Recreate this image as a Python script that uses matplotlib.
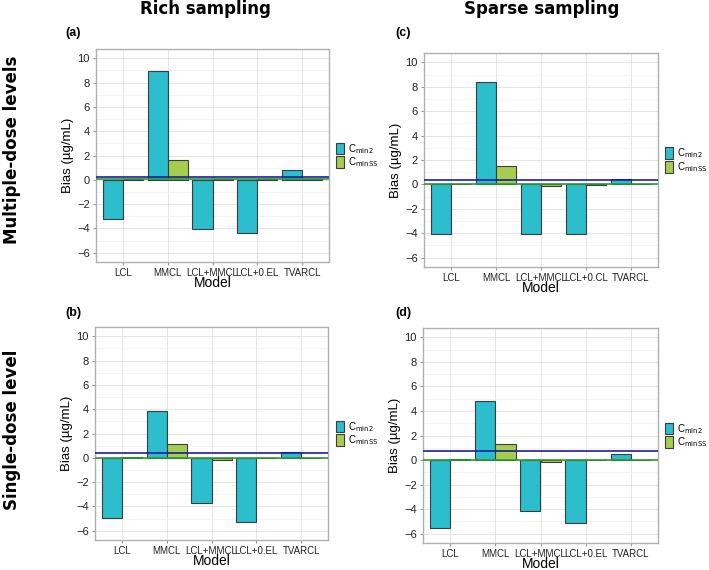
import numpy as np
import matplotlib.pyplot as plt
from matplotlib.patches import Patch
from matplotlib.ticker import MultipleLocator

models = ["LCL", "MMCL", "LCL+MMCL", "LCL+0.EL", "TVARCL"]
models_c = ["LCL", "MMCL", "LCL+MMCL", "LCL+0.CL", "TVARCL"]

# bias values (ug/mL)
cmin2_a = [-3.23, 8.95, -4.02, -4.4, 0.81]
cminss_a = [0.1, 1.6, 0.05, 0.05, 0.05]
cmin2_c = [-4.07, 8.43, -4.03, -4.07, 0.41]
cminss_c = [0.0, 1.48, -0.1, -0.05, 0.0]
cmin2_b = [-4.92, 3.86, -3.75, -5.26, 0.5]
cminss_b = [0.1, 1.1, -0.15, -0.05, 0.0]
cmin2_d = [-5.52, 4.82, -4.12, -5.12, 0.46]
cminss_d = [0.1, 1.33, -0.15, 0.0, 0.0]

# reference lines (blue, green)
hlines = {"a": (0.2, 0.1), "c": (0.38, 0.0), "b": (0.36, 0.0), "d": (0.75, 0.0)}

teal = "#2CBECC"
lime = "#A6CE4E"
W, H = 709, 570

plt.rcParams["font.family"] = ["Liberation Sans", "DejaVu Sans"]

fig = plt.figure(figsize=(W / 100, H / 100), dpi=100)


def axbox(left, right, top, bottom):
    return [left / W, (H - bottom) / H, (right - left) / W, (bottom - top) / H]


panels = [
    ("a", axbox(96, 329, 49, 262), models, cmin2_a, cminss_a, (65, 33), 336),
    ("c", axbox(424, 658, 53, 267), models_c, cmin2_c, cminss_c, (395, 33), 665),
    ("b", axbox(95, 328, 327, 540), models, cmin2_b, cminss_b, (65, 313), 336),
    ("d", axbox(423, 658, 328, 543), models, cmin2_d, cminss_d, (395, 313), 665),
]

x = np.arange(1, len(models) + 1)
w = 0.45

for tag, box, labels, v1, v2, tagpos, legx in panels:
    ax = fig.add_axes(box)
    ax.set_facecolor("white")
    ax.bar(x - w / 2, v1, w, color=teal, edgecolor="#3c3c3c", linewidth=0.8, zorder=3)
    ax.bar(x + w / 2, v2, w, color=lime, edgecolor="#3c3c3c", linewidth=0.8, zorder=3)
    blue, green = hlines[tag]
    ax.axhline(green, color="#2e9b2e", linewidth=1.2, zorder=4)
    ax.axhline(blue, color="#1c1ca8", linewidth=1.2, zorder=4)

    ax.set_xlim(0.4, 5.6)
    ax.set_ylim(-6.77, 10.77)
    ax.set_xticks(x)
    ax.set_xticklabels(labels, fontsize=7, color="#222222")
    ax.yaxis.set_major_locator(MultipleLocator(2))
    ax.yaxis.set_minor_locator(MultipleLocator(1))
    ax.tick_params(axis="y", labelsize=8, labelcolor="#222222", length=2.5,
                   color="#999999", pad=2)
    ax.tick_params(axis="x", length=2.5, color="#999999", pad=1.5)
    ax.tick_params(axis="y", which="minor", length=0)
    ax.grid(True, which="major", color="#e6e6e6", linewidth=0.7, zorder=0)
    ax.grid(True, which="minor", axis="y", color="#f0f0f0", linewidth=0.5, zorder=0)
    for s in ax.spines.values():
        s.set_color("#b0b0b0")
        s.set_linewidth(1.0)
    ax.set_xlabel("Model", fontsize=10, labelpad=-1)
    ax.set_ylabel("Bias (\u00b5g/mL)", fontsize=9.5, labelpad=2)

    handles = [Patch(facecolor=teal, edgecolor="#3c3c3c", linewidth=0.8),
               Patch(facecolor=lime, edgecolor="#3c3c3c", linewidth=0.8)]
    ax.legend(handles, [r"C$_{\mathrm{min2}}$", r"C$_{\mathrm{minSS}}$"],
              loc="center left", bbox_to_anchor=((legx - box[0] * W) / (box[2] * W), 0.5),
              frameon=False, fontsize=7, handlelength=0.8, handleheight=1.5,
              handletextpad=0.4, labelspacing=0.0, borderpad=0, borderaxespad=0)

    fig.text(tagpos[0] / W, 1 - tagpos[1] / H, f"({tag})", fontsize=9,
             fontweight="bold", ha="left", va="center")

fig.text(205 / W, 1 - 9 / H, "Rich sampling", fontsize=12, fontweight="bold",
         family="DejaVu Sans", ha="center", va="center")
fig.text(542 / W, 1 - 9 / H, "Sparse sampling", fontsize=12, fontweight="bold",
         family="DejaVu Sans", ha="center", va="center")
fig.text(12 / W, 1 - 150 / H, "Multiple-dose levels", fontsize=12, fontweight="bold",
         family="DejaVu Sans", rotation=90, ha="center", va="center")
fig.text(12 / W, 1 - 430 / H, "Single-dose level", fontsize=12, fontweight="bold",
         family="DejaVu Sans", rotation=90, ha="center", va="center")

fig.savefig("out.png", dpi=100, facecolor="white")
